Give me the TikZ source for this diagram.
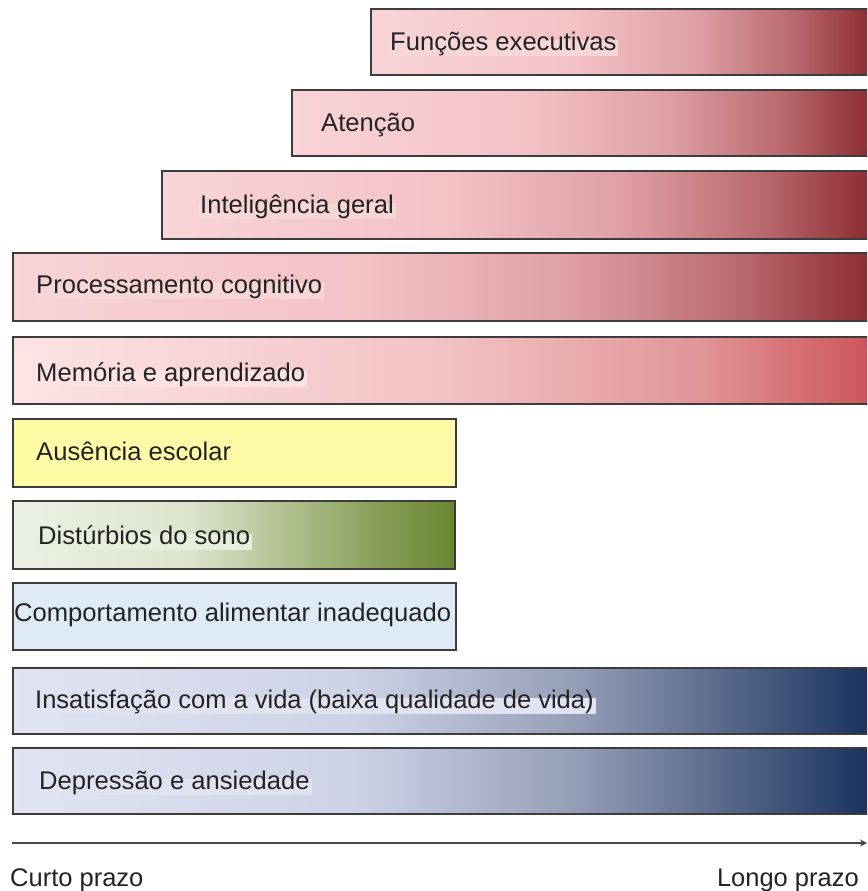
\documentclass[tikz,border=0pt]{standalone}
\usepackage{fontspec}
\setmainfont{Liberation Sans}
\usetikzlibrary{arrows.meta}
\pgfdeclarehorizontalshading{redA}{100bp}{rgb(0bp)=(0.973,0.831,0.839); rgb(25bp)=(0.973,0.831,0.839); rgb(45bp)=(0.953,0.765,0.776); rgb(57.5bp)=(0.871,0.627,0.647); rgb(67.5bp)=(0.725,0.412,0.431); rgb(75bp)=(0.549,0.176,0.196); rgb(100bp)=(0.549,0.176,0.196)}
\pgfdeclarehorizontalshading{redB}{100bp}{rgb(0bp)=(0.992,0.894,0.894); rgb(25bp)=(0.992,0.894,0.894); rgb(50bp)=(0.949,0.765,0.769); rgb(65bp)=(0.882,0.588,0.596); rgb(75bp)=(0.804,0.333,0.353); rgb(100bp)=(0.804,0.333,0.353)}
\pgfdeclarehorizontalshading{greenA}{100bp}{rgb(0bp)=(0.925,0.949,0.894); rgb(25bp)=(0.925,0.949,0.894); rgb(45bp)=(0.863,0.894,0.804); rgb(55bp)=(0.706,0.765,0.588); rgb(67.5bp)=(0.510,0.608,0.314); rgb(75bp)=(0.412,0.529,0.196); rgb(100bp)=(0.412,0.529,0.196)}
\pgfdeclarehorizontalshading{blueA}{100bp}{rgb(0bp)=(0.882,0.894,0.953); rgb(25bp)=(0.882,0.894,0.953); rgb(45bp)=(0.804,0.824,0.902); rgb(57.5bp)=(0.588,0.627,0.725); rgb(69bp)=(0.275,0.353,0.490); rgb(75bp)=(0.098,0.196,0.373); rgb(100bp)=(0.098,0.196,0.373)}
\definecolor{borderc}{RGB}{60,60,60}
\definecolor{txtc}{RGB}{35,35,35}
\definecolor{yellowc}{RGB}{255,250,165}
\definecolor{lblue}{RGB}{223,234,247}
\definecolor{pinkbg}{RGB}{247,214,216}
\definecolor{pinkbgB}{RGB}{252,226,226}
\definecolor{greenbg}{RGB}{232,238,222}
\definecolor{bluebg}{RGB}{224,227,242}
\definecolor{axisc}{RGB}{70,70,70}
\begin{document}
\begin{tikzpicture}[x=1pt,y=-1pt,
  bar/.style={draw=borderc,line width=2pt,rectangle,outer sep=0pt,inner sep=0pt,anchor=north west},
  lbl/.style={anchor=west,inner xsep=2pt,inner ysep=3pt,text=txtc,font=\fontsize{25.6}{30}\selectfont,text height=0.75em,text depth=0.22em},
  axlbl/.style={text=txtc,font=\fontsize{25.5}{30}\selectfont,inner sep=0pt,text height=0.75em,text depth=0.22em}]
\useasboundingbox (0,0) rectangle (867,891);
\clip (0,0) rectangle (867,891);
% bars
\node[bar,shading=redA,minimum width=498pt,minimum height=66pt] (b1) at (371,9) {};
\node[bar,shading=redA,minimum width=577pt,minimum height=66pt] (b2) at (292,90) {};
\node[bar,shading=redA,minimum width=707pt,minimum height=68pt] (b3) at (162,171) {};
\node[bar,shading=redA,minimum width=856pt,minimum height=68pt] (b4) at (13,253) {};
\node[bar,shading=redB,minimum width=856pt,minimum height=67pt] (b5) at (13,337) {};
\node[bar,fill=yellowc,minimum width=443pt,minimum height=68pt] (b6) at (13,419) {};
\node[bar,shading=greenA,minimum width=442pt,minimum height=68pt] (b7) at (13,501) {};
\node[bar,fill=lblue,minimum width=443pt,minimum height=67pt] (b8) at (13,583) {};
\node[bar,shading=blueA,minimum width=856pt,minimum height=66pt] (b9) at (13,668) {};
\node[bar,shading=blueA,minimum width=856pt,minimum height=66pt] (b10) at (13,748) {};
% labels
\node[lbl,fill=pinkbg] (t1) at (388,48) {Funções executivas};
\node[lbl] (t2) at (319,129) {Atenção};
\node[lbl,fill=pinkbg] (t3) at (198,211) {Inteligência geral};
\node[lbl,fill=pinkbg] (t4) at (34,291) {Processamento cognitivo};
\node[lbl,fill=pinkbgB] (t5) at (34,379) {Memória e aprendizado};
\node[lbl] (t6) at (34,458) {Ausência escolar};
\node[lbl,fill=greenbg] (t7) at (36,542) {Distúrbios do sono};
\node[lbl] (t8) at (12,619) {Comportamento alimentar inadequado};
\node[lbl,fill=bluebg,font=\fontsize{25.5}{30}\selectfont] (t9) at (33,706) {Insatisfação com a vida (baixa qualidade de vida)};
\node[lbl,fill=bluebg] (t10) at (37,787) {Depressão e ansiedade};
% axis
\coordinate (a0) at (12,843);
\coordinate (a1) at (867,843);
\draw[axisc,line width=1.6pt,-{Stealth[length=7pt,width=7pt]}] (a0) -- (a1);
\node[axlbl,anchor=west] (curto) at (10,884) {Curto prazo};
\node[axlbl,anchor=east] (longo) at (859,884) {Longo prazo};
\end{tikzpicture}
\end{document}
